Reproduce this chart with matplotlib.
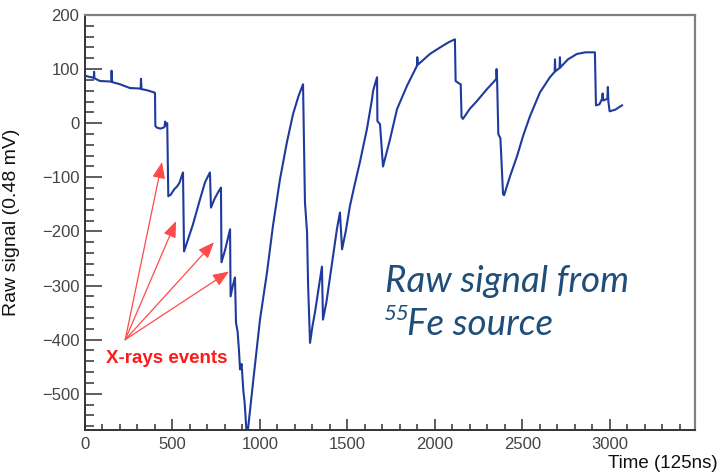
import matplotlib
matplotlib.use("Agg")
import matplotlib.pyplot as plt
from matplotlib.ticker import MultipleLocator

# waveform (time in 125 ns units, raw ADC counts)
time = [0, 20, 50, 52, 54, 86, 150, 152, 155, 200, 257, 318, 320, 323, 354, 394, 400,
        402, 410, 430, 450, 455, 458, 461, 470,
        476, 490, 510, 526, 540, 550, 560,
        566, 617, 657, 686, 714,
        720, 740, 760, 777,
        780, 800, 815, 829,
        832, 845, 857,
        863, 872, 880, 886, 895, 900, 905, 912, 925,
        931, 960, 1000, 1040, 1074, 1114, 1154, 1189, 1220, 1246,
        1257, 1269, 1275, 1286,
        1300, 1314, 1340, 1354,
        1360, 1380, 1400, 1420, 1440, 1457,
        1469, 1490, 1514, 1540, 1571, 1611, 1640, 1646, 1657, 1669,
        1671, 1686, 1703,
        1743, 1783, 1840, 1897, 1899, 1902, 1971, 2029, 2080, 2114,
        2118, 2135, 2147, 2152,
        2160, 2200, 2240, 2297, 2340, 2350, 2352, 2355,
        2362, 2374, 2389, 2395,
        2429, 2469, 2503, 2543, 2600, 2657, 2684, 2686, 2688, 2712, 2714, 2716,
        2760, 2811, 2860, 2903, 2914,
        2920, 2940, 2955, 2958, 2962, 2985, 2988, 2991, 2998, 3030, 3069]
signal = [88, 86, 84, 95, 83, 78, 77, 97, 76, 72, 65, 64, 82, 63, 61, 57, 56,
          -5, -8, -10, -8, -6, 3, -4, 0,
          -135, -132, -122, -117, -110, -100, -91,
          -237, -187, -141, -109, -91,
          -156, -140, -128, -119,
          -257, -235, -215, -196,
          -320, -300, -285,
          -369, -385, -420, -455, -445, -470, -495, -515, -580,
          -567, -480, -363, -276, -190, -104, -35, 17, 50, 72,
          -146, -202, -300, -406,
          -375, -350, -295, -265,
          -363, -330, -285, -240, -195, -165,
          -233, -200, -153, -115, -72, -11, 44, 59, 72, 85,
          4, -2, -80,
          -30, 26, 69, 106, 122, 108, 128, 140, 150, 155,
          78, 74, 72, 11,
          8, 27, 41, 63, 78, 82, 100, 82,
          -20, -28, -131, -133,
          -98, -61, -24, 13, 57, 85, 95, 118, 96, 102, 122, 103,
          118, 128, 131, 131, 131,
          33, 35, 45, 55, 42, 45, 67, 40, 22, 25, 33]

# arrows: start point and the four x-ray hits
arrow_start = (230, -400)
arrow_tips_t = [440, 520, 737, 823]
arrow_tips_v = [-72, -181, -220, -274]

plt.rcParams['font.family'] = ['Liberation Sans', 'DejaVu Sans']

fig = plt.figure(figsize=(7.22, 4.75), dpi=100)
ax = fig.add_axes([85 / 722, 45 / 475, 610 / 722, 415 / 475])

ax.plot(time, signal, color='#1f3a9e', lw=1.5)

ax.set_xlim(0, 3486)
ax.set_ylim(-567, 200)
ax.xaxis.set_major_locator(MultipleLocator(500))
ax.xaxis.set_minor_locator(MultipleLocator(100))
ax.yaxis.set_major_locator(MultipleLocator(100))
ax.yaxis.set_minor_locator(MultipleLocator(20))

ax.tick_params(axis='both', which='both', direction='in', colors='#333333',
               labelcolor='#444444', labelsize=12, width=1.1)
ax.tick_params(axis='y', which='major', length=12, pad=4)
ax.tick_params(axis='y', which='minor', length=6.5)
ax.tick_params(axis='x', which='major', length=8, pad=5)
ax.tick_params(axis='x', which='minor', length=4.3)

for side in ['left', 'bottom']:
    ax.spines[side].set_color('#333333')
    ax.spines[side].set_linewidth(1.4)
for side in ['top', 'right']:
    ax.spines[side].set_color('#808080')
    ax.spines[side].set_linewidth(1.6)

ax.set_ylabel('Raw signal (0.48 mV)', fontsize=14, color='#111111')
ax.yaxis.set_label_coords(-0.107, 0.5)
fig.text(718 / 722, 1 - 463 / 475, 'Time (125ns)', ha='right', va='center',
         fontsize=13.5, color='#111111')

for tx, ty in zip(arrow_tips_t, arrow_tips_v):
    ax.annotate('', xy=(tx, ty), xytext=arrow_start,
                arrowprops=dict(arrowstyle='-|>,head_length=0.7,head_width=0.28',
                                color='#ff4a4a', lw=0.9, shrinkA=0, shrinkB=0,
                                mutation_scale=14))
ax.text(470, -435, 'X-rays events', color='#ff1a1a', fontsize=13.5,
        fontweight='bold', ha='center', va='center')

blue = '#1f4e79'
fig.text(385 / 722, 1 - 292 / 475, 'Raw signal from', color=blue, fontsize=26.5,
         style='italic', family='Lato', ha='left', va='baseline')
fig.text(383 / 722, 1 - 320 / 475, '55', color=blue, fontsize=16,
         style='italic', family='Lato', ha='left', va='baseline')
fig.text(407 / 722, 1 - 335 / 475, 'Fe source', color=blue, fontsize=26.5,
         style='italic', family='Lato', ha='left', va='baseline')

fig.savefig('out.png', dpi=100)
